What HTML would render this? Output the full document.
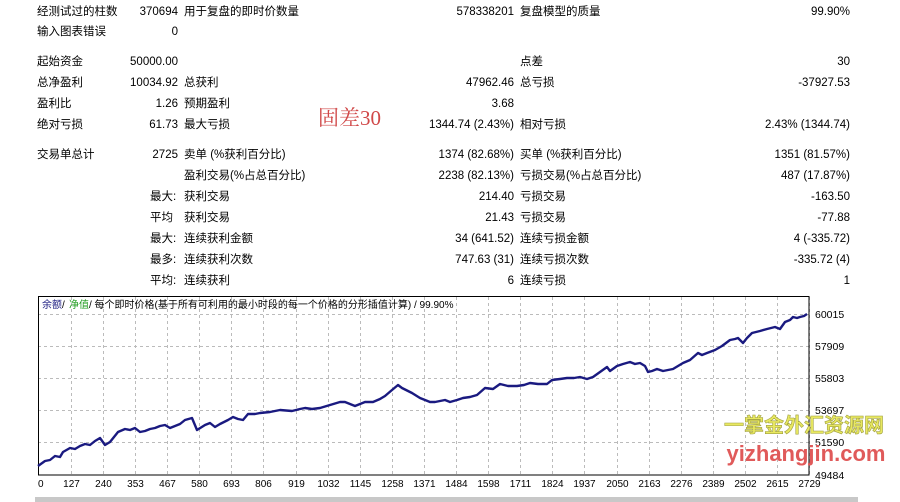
<!DOCTYPE html>
<html><head><meta charset="utf-8"><style>
body{margin:0;width:900px;height:502px;background:#fff;overflow:hidden;position:relative;font-family:"Liberation Sans","Noto Sans CJK SC",sans-serif;font-size:11.5px;color:#000}
.t{position:absolute;white-space:nowrap;line-height:14px}
.r{text-align:right}
</style></head><body>
<div id="tbl"></div>
<script>
var rows=[
[12,"经测试过的柱数","370694","用于复盘的即时价数量","578338201","复盘模型的质量","99.90%"],
[32,"输入图表错误","0","","","",""],
[62,"起始资金","50000.00","","","点差","30"],
[83,"总净盈利","10034.92","总获利","47962.46","总亏损","-37927.53"],
[104,"盈利比","1.26","预期盈利","3.68","",""],
[125,"绝对亏损","61.73","最大亏损","1344.74 (2.43%)","相对亏损","2.43% (1344.74)"],
[155,"交易单总计","2725","卖单 (%获利百分比)","1374 (82.68%)","买单 (%获利百分比)","1351 (81.57%)"],
[176,"","","盈利交易(%占总百分比)","2238 (82.13%)","亏损交易(%占总百分比)","487 (17.87%)"],
[197,"最大:","","获利交易","214.40","亏损交易","-163.50"],
[218,"平均","","获利交易","21.43","亏损交易","-77.88"],
[239,"最大:","","连续获利金额","34 (641.52)","连续亏损金额","4 (-335.72)"],
[260,"最多:","","连续获利次数","747.63 (31)","连续亏损次数","-335.72 (4)"],
[281,"平均:","","连续获利","6","连续亏损","1"]];
var h="";
rows.forEach(function(r){var y=r[0]-7;
var lx=(r[1]=="最大:"||r[1]=="平均"||r[1]=="最多:"||r[1]=="平均:")?150:37;
h+='<div class="t" style="left:'+lx+'px;top:'+y+'px">'+r[1]+'</div>';
h+='<div class="t r" style="right:'+(900-178)+'px;top:'+y+'px">'+r[2]+'</div>';
h+='<div class="t" style="left:184px;top:'+y+'px">'+r[3]+'</div>';
h+='<div class="t r" style="right:'+(900-514)+'px;top:'+y+'px">'+r[4]+'</div>';
h+='<div class="t" style="left:520px;top:'+y+'px">'+r[5]+'</div>';
h+='<div class="t r" style="right:'+(900-850)+'px;top:'+y+'px">'+r[6]+'</div>';});
document.getElementById("tbl").innerHTML=h;
</script>
<div class="t" style="left:318px;top:106px;font-family:'Liberation Serif','Noto Serif CJK SC',serif;font-size:21px;line-height:24px;color:#d04848">固差30</div>
<svg width="900" height="502" style="position:absolute;left:0;top:0" xmlns="http://www.w3.org/2000/svg">
<g stroke="#bbb" stroke-dasharray="3,3" stroke-width="1">
<line x1="38" y1="314.5" x2="809" y2="314.5"/><line x1="38" y1="346.5" x2="809" y2="346.5"/><line x1="38" y1="378.5" x2="809" y2="378.5"/><line x1="38" y1="410.5" x2="809" y2="410.5"/><line x1="38" y1="442.5" x2="809" y2="442.5"/>
</g>
<g id="vg" stroke="#bbb" stroke-dasharray="3,3" stroke-width="1"></g>
<rect x="38.5" y="296.5" width="770.5" height="178.5" fill="none" stroke="#000" stroke-width="1"/>
<polyline id="pl" fill="none" stroke="#1a1a80" stroke-width="2.4" stroke-linejoin="round" points="38,466 45,461 50,460 55,456 60,457 63,452 70,448 75,449 80,446 85,444 90,445 95,441 100,438 105,445 110,442 118,432 125,429 130,430 135,428 140,432 145,431 150,429 155,428 160,426 165,425 170,428 175,426 180,424 185,420 192,418 197,430 205,425 210,423 215,427 220,424 228,420 233,417 238,419 243,420 248,414 255,414 260,413 270,412 280,410 292,411 300,409 305,408 312,409 320,408 330,405 340,402 345,402 350,404 355,406 365,402 373,402 380,399 385,396 392,390 398,385 402,388 408,391 412,393 420,398 425,400 430,402 435,402 445,400 450,402 457,400 463,398 470,397 477,395 485,388 493,389 500,384 508,386 517,386 524,385 530,383 538,384 547,384 552,380 560,379 567,378 574,378 580,377 587,379 593,377 600,372 607,367 610,371 617,366 623,364 630,362 635,364 640,363 645,366 648,372 652,371 657,369 663,371 668,370 673,369 678,366 683,363 690,360 698,353 702,355 707,353 715,350 722,346 730,340 735,339 738,338 743,343 747,338 752,333 760,331 767,329 775,327 780,329 785,322 790,320 793,317 797,318 800,317 804,316 807,314"/>
<g id="xl" font-family="Liberation Sans,sans-serif" font-size="10" fill="#000"></g>
<g font-family="Liberation Sans,sans-serif" font-size="10.5" fill="#000">
<text x="815" y="318">60015</text><text x="815" y="350">57909</text><text x="815" y="382">55803</text><text x="815" y="414">53697</text><text x="815" y="446">51590</text><text x="815" y="479">49484</text>
</g>
<g font-family="Liberation Sans,Noto Sans CJK SC,sans-serif" font-size="10">
<text x="42" y="308" fill="#1a1a80">余额</text><text x="62" y="308">/</text><text x="69" y="308" fill="#1a9a1a">净值</text><text x="89" y="308" fill="#000">/ 每个即时价格(基于所有可利用的最小时段的每一个价格的分形插值计算) / 99.90%</text>
</g>
<g fill="#c8c8c8"><rect x="35" y="497" width="823" height="5"/></g>
<text x="804" y="432" text-anchor="middle" font-family="Noto Sans CJK SC,sans-serif" font-weight="bold" font-size="20" fill="#e8e860" stroke="#a0a040" stroke-width="0.6">一掌金外汇资源网</text>
<text x="806" y="461" text-anchor="middle" font-family="Liberation Sans,sans-serif" font-weight="bold" font-size="22" fill="#e05a5a">yizhangjin.com</text>
</svg>
<script>
var ticks=[0,127,240,353,467,580,693,806,919,1032,1145,1258,1371,1484,1598,1711,1824,1937,2050,2163,2276,2389,2502,2615,2729];
var g="",l="";
ticks.forEach(function(t,i){var x=Math.round(38.7+i*32.1)+0.5;
if(i>0)g+='<line x1="'+x+'" y1="297" x2="'+x+'" y2="475"/>';
l+='<text x="'+(i==0?38:x)+'" y="487" text-anchor="'+(i==0?'start':'middle')+'">'+t+'</text>';});
document.getElementById("vg").innerHTML=g;document.getElementById("xl").innerHTML=l;
</script>
</body></html>
